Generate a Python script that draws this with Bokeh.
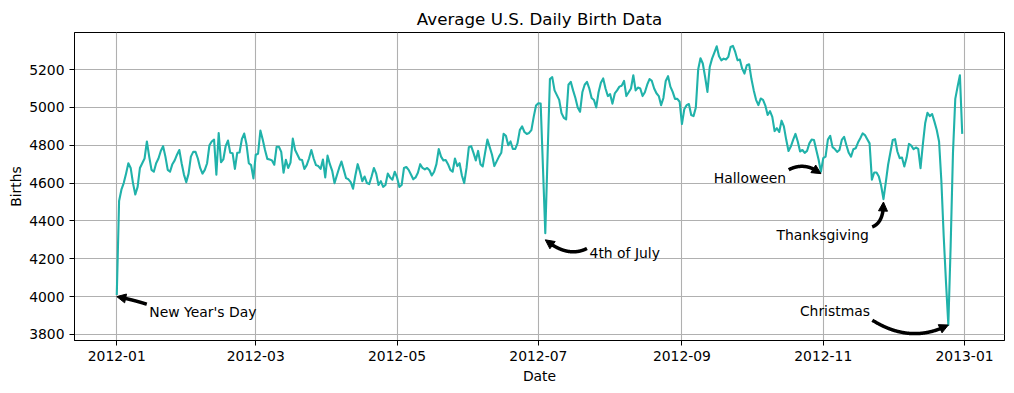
import numpy as np
import pandas as pd
from bokeh.plotting import figure
from bokeh.models import (ColumnDataSource, Range1d, FixedTicker, DatetimeTickFormatter,
                          Label, Arrow, NormalHead)
from bokeh.embed import file_html
from bokeh.resources import INLINE

# Average number of births for each calendar day (leap year 2012)
start_date = "2012-01-01"
births = [
    4009, 4505, 4565, 4600, 4650, 4705, 4680, 4600, 4540, 4580,
    4680, 4705, 4730, 4820, 4740, 4670, 4660, 4705, 4730, 4770,
    4795, 4740, 4670, 4660, 4700, 4720, 4750, 4775, 4705, 4645,
    4605, 4650, 4740, 4765, 4765, 4730, 4680, 4650, 4670, 4705,
    4800, 4820, 4830, 4645, 4865, 4710, 4725, 4795, 4825, 4760,
    4758, 4675, 4760, 4762, 4832, 4862, 4805, 4705, 4695, 4625,
    4750, 4755, 4878, 4830, 4775, 4728, 4725, 4720, 4697, 4792,
    4792, 4765, 4655, 4723, 4680, 4708, 4835, 4775, 4750, 4725,
    4722, 4675, 4695, 4730, 4775, 4730, 4695, 4690, 4675, 4725,
    4630, 4745, 4700, 4665, 4600, 4640, 4680, 4714, 4670, 4626,
    4620, 4605, 4570, 4640, 4700, 4660, 4610, 4635, 4600, 4595,
    4635, 4680, 4650, 4590, 4610, 4580, 4590, 4650, 4630, 4618,
    4660, 4630, 4580, 4590, 4680, 4685, 4670, 4645, 4620, 4630,
    4655, 4700, 4680, 4672, 4680, 4668, 4640, 4660, 4700, 4780,
    4740, 4720, 4722, 4700, 4670, 4660, 4730, 4690, 4705, 4640,
    4600, 4680, 4790, 4795, 4760, 4720, 4770, 4700, 4688, 4760,
    4830, 4790, 4750, 4690, 4715, 4740, 4760, 4860, 4850, 4800,
    4820, 4780, 4780, 4810, 4880, 4900, 4870, 4860, 4865, 4880,
    4950, 5010, 5022, 5020, 4680, 4335, 4750, 5150, 5160, 5090,
    5065, 5040, 4970, 4945, 4937, 5120, 5135, 5090, 5050, 5000,
    4977, 5080, 5120, 5135, 5100, 5050, 5039, 5000, 5080, 5130,
    5153, 5100, 5060, 5070, 5020, 5074, 5090, 5110, 5115, 5140,
    5060, 5080, 5100, 5170, 5090, 5105, 5100, 5060, 5080, 5120,
    5150, 5140, 5100, 5075, 5060, 5012, 5050, 5140, 5165, 5110,
    5082, 5045, 5045, 5030, 4912, 4990, 5012, 5018, 4960, 4954,
    5000, 5200, 5260, 5232, 5161, 5082, 5214, 5258, 5290, 5323,
    5270, 5249, 5258, 5253, 5267, 5319, 5325, 5293, 5249, 5253,
    5205, 5179, 5223, 5228, 5150, 5090, 5040, 5012, 5047, 5040,
    5010, 4960, 4980, 4950, 4875, 4890, 4870, 4930, 4900, 4830,
    4770, 4793, 4828, 4860, 4820, 4767, 4775, 4760, 4770, 4810,
    4830, 4828, 4775, 4723, 4660, 4732, 4740, 4830, 4850, 4790,
    4780, 4765, 4775, 4828, 4845, 4800, 4760, 4740, 4779, 4784,
    4814, 4837, 4863, 4854, 4832, 4810, 4618, 4656, 4656, 4635,
    4586, 4515, 4604, 4697, 4763, 4828, 4832, 4767, 4732, 4735,
    4688, 4735, 4807, 4798, 4779, 4788, 4781, 4679, 4805, 4916,
    4972, 4954, 4965, 4925, 4881, 4820, 4609, 4320, 4074, 3850,
    4267, 4758, 5045, 5110, 5170, 4860,
]
dates = pd.date_range(start_date, periods=len(births), freq="D")

x_tick_labels = ["2012-01", "2012-03", "2012-05", "2012-07", "2012-09", "2012-11", "2013-01"]
y_ticks = [3800, 4000, 4200, 4400, 4600, 4800, 5000, 5200]

# Holidays that are called out on the chart
holiday_names = ["New Year's Day", "4th of July", "Halloween", "Thanksgiving", "Christmas"]
holiday_dates = ["2012-01-01", "2012-07-04", "2012-10-31", "2012-11-27", "2012-12-25"]
holiday_births = [4000, 4300, 4650, 4500, 3850]

# Annotation geometry in screen pixels relative to the pointed-at spot (x right, y down):
# text anchor, text alignment, arrow tail and curve control point
text_offsets = [(32.6, 15.0), (44.3, 13.6), (-34.8, 4.3), (-14.7, 33.2), (-78.4, -13.8)]
text_aligns = ["left", "left", "right", "right", "right"]
arrow_tails = [(30.0, 7.6), (41.7, 8.6), (-32.2, -3.9), (-11.3, 24.9), (-76.0, -4.8)]
arrow_ctrls = [(15.5, 3.0), (22.5, 18.3), (-15.9, -12.3), (0.3, 20.6), (-37.4, 19.4)]

FONT = "DejaVu Sans"
LINE_COLOR = "#20b2aa"
FRAME_W, FRAME_H = 930, 308

first = pd.Timestamp(dates[0])
last = pd.Timestamp(dates[-1])
pad = (last - first) * 0.05
x_start, x_end = first - pad, last + pad
y_start, y_end = 3768, 5396

p = figure(width=1014, height=393, x_axis_type="datetime",
           x_range=Range1d(x_start, x_end), y_range=Range1d(y_start, y_end),
           output_backend="svg", toolbar_location=None,
           min_border_left=74, min_border_right=10, min_border_top=32, min_border_bottom=53,
           background_fill_color="white", border_fill_color="white",
           title="Average U.S. Daily Birth Data")

p.title.text_font = FONT
p.title.text_font_size = "16.7px"
p.title.text_font_style = "normal"
p.title.text_color = "black"
p.title.align = "center"
p.title.standoff = 7

p.outline_line_color = "black"
p.outline_line_width = 1
p.outline_line_alpha = 1

tick_ms = [pd.Timestamp(t + "-01").value // 10**6 for t in x_tick_labels]
p.xaxis.ticker = FixedTicker(ticks=tick_ms)
p.xaxis.formatter = DatetimeTickFormatter(days="%Y-%m", months="%Y-%m", years="%Y-%m")
p.yaxis.ticker = FixedTicker(ticks=y_ticks)
p.xaxis.axis_label = "Date"
p.yaxis.axis_label = "Births"

for ax in (p.xaxis, p.yaxis):
    ax.axis_line_color = "black"
    ax.major_tick_line_color = "black"
    ax.major_tick_out = 5
    ax.major_tick_in = 0
    ax.minor_tick_line_color = None
    ax.major_label_standoff = 5
    ax.major_label_text_font = FONT
    ax.major_label_text_font_size = "13.9px"
    ax.major_label_text_color = "black"
    ax.axis_label_text_font = FONT
    ax.axis_label_text_font_size = "13.9px"
    ax.axis_label_text_font_style = "normal"
    ax.axis_label_text_color = "black"
p.xaxis.axis_label_standoff = 4
p.yaxis.axis_label_standoff = 2

p.grid.grid_line_color = "#b0b0b0"
p.grid.grid_line_width = 1.1

src = ColumnDataSource(dict(date=dates, births=births))
p.line("date", "births", source=src, line_color=LINE_COLOR, line_width=2.1, line_join="round")

# Convert pixel offsets into data units of the fixed frame
ms_per_px = (x_end - x_start) / pd.Timedelta(milliseconds=1) / FRAME_W
births_per_px = (y_end - y_start) / FRAME_H
HEAD = 9

for name, d, b, (tx, ty), align, tail, ctrl in zip(holiday_names, holiday_dates, holiday_births,
                                                    text_offsets, text_aligns, arrow_tails, arrow_ctrls):
    tip_ms = pd.Timestamp(d).value / 10**6
    p.add_layout(Label(x=tip_ms, y=b, x_offset=tx, y_offset=-ty, text=name,
                       text_align=align, text_baseline="alphabetic",
                       text_font=FONT, text_font_size="13.9px", text_color="black"))

    # quadratic curve from the tail to the tip, in screen pixels
    t = np.linspace(0, 1, 200)[:, None]
    p0 = np.array(tail)
    c = np.array(ctrl)
    p2 = np.zeros(2)
    pts = (1 - t) ** 2 * p0 + 2 * (1 - t) * t * c + t ** 2 * p2
    dist = np.hypot(pts[:, 0], pts[:, 1])
    body = pts[dist >= HEAD - 1]
    bx = tip_ms + body[:, 0] * ms_per_px
    by = b - body[:, 1] * births_per_px
    p.line(bx, by, line_color="black", line_width=3.5, line_cap="butt", line_join="round")
    p.add_layout(Arrow(x_start=bx[-1], y_start=by[-1], x_end=tip_ms, y_end=b,
                       line_alpha=0,
                       end=NormalHead(size=HEAD, fill_color="black", line_color="black", line_width=1)))

open("out.html", "w").write(file_html(p, INLINE))
